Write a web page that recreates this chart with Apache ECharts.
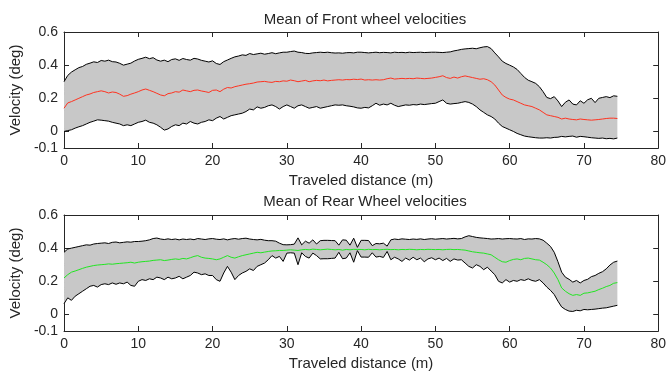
<!DOCTYPE html>
<html>
<head>
<meta charset="utf-8">
<script src="https://cdn.jsdelivr.net/npm/echarts@6/dist/echarts.min.js"></script>
<style>
  html, body { margin: 0; padding: 0; background: #ffffff; }
  #chart { width: 669px; height: 376px; }
</style>
</head>
<body>
<div id="chart"></div>
<script>
// Sampling positions along the track (m), every 0.5 m from 0 to 74.5
const distance = [];
for (let i = 0; i < 150; i++) distance.push(i * 0.5);

// Front wheel: upper bound, mean and lower bound of velocity (deg)
const frontUpper = [
  0.300, 0.338, 0.358, 0.372, 0.385, 0.392, 0.405, 0.412, 0.420, 0.416,
  0.428, 0.424, 0.430, 0.421, 0.419, 0.411, 0.400, 0.406, 0.412, 0.425,
  0.435, 0.441, 0.448, 0.439, 0.445, 0.431, 0.424, 0.430, 0.421, 0.434,
  0.438, 0.429, 0.440, 0.434, 0.430, 0.441, 0.437, 0.429, 0.424, 0.419,
  0.426, 0.410, 0.404, 0.421, 0.431, 0.441, 0.450, 0.455, 0.462, 0.459,
  0.470, 0.464, 0.468, 0.472, 0.466, 0.470, 0.475, 0.469, 0.474, 0.478,
  0.478, 0.482, 0.485, 0.478, 0.476, 0.471, 0.470, 0.474, 0.476, 0.478,
  0.476, 0.478, 0.475, 0.473, 0.474, 0.472, 0.475, 0.476, 0.474, 0.478,
  0.478, 0.476, 0.474, 0.476, 0.478, 0.475, 0.477, 0.476, 0.474, 0.478,
  0.476, 0.477, 0.475, 0.478, 0.476, 0.477, 0.478, 0.476, 0.477, 0.478,
  0.478, 0.477, 0.476, 0.478, 0.480, 0.486, 0.490, 0.495, 0.498, 0.500,
  0.502, 0.499, 0.505, 0.510, 0.512, 0.500, 0.474, 0.450, 0.424, 0.410,
  0.400, 0.389, 0.374, 0.350, 0.326, 0.309, 0.300, 0.290, 0.270, 0.240,
  0.205, 0.198, 0.210, 0.184, 0.150, 0.176, 0.190, 0.165, 0.160, 0.185,
  0.170, 0.191, 0.200, 0.174, 0.200, 0.205, 0.210, 0.204, 0.215, 0.212
];
const frontMean = [
  0.140, 0.172, 0.180, 0.190, 0.200, 0.210, 0.220, 0.226, 0.235, 0.240,
  0.245, 0.240, 0.232, 0.238, 0.235, 0.225, 0.212, 0.216, 0.225, 0.232,
  0.240, 0.250, 0.256, 0.248, 0.240, 0.230, 0.220, 0.215, 0.228, 0.232,
  0.240, 0.237, 0.250, 0.245, 0.240, 0.248, 0.250, 0.244, 0.240, 0.235,
  0.248, 0.250, 0.240, 0.255, 0.265, 0.262, 0.270, 0.275, 0.280, 0.285,
  0.288, 0.292, 0.298, 0.300, 0.302, 0.298, 0.296, 0.302, 0.300, 0.305,
  0.303, 0.310, 0.306, 0.300, 0.304, 0.308, 0.300, 0.305, 0.308, 0.306,
  0.310, 0.305, 0.308, 0.310, 0.312, 0.310, 0.313, 0.312, 0.315, 0.313,
  0.316, 0.310, 0.312, 0.310, 0.312, 0.310, 0.312, 0.318, 0.322, 0.316,
  0.318, 0.320, 0.318, 0.320, 0.318, 0.322, 0.320, 0.318, 0.320, 0.322,
  0.326, 0.330, 0.336, 0.325, 0.320, 0.328, 0.322, 0.330, 0.335, 0.330,
  0.325, 0.320, 0.315, 0.318, 0.312, 0.300, 0.280, 0.250, 0.220, 0.205,
  0.195, 0.190, 0.180, 0.170, 0.160, 0.155, 0.150, 0.140, 0.130, 0.115,
  0.100, 0.095, 0.090, 0.085, 0.075, 0.080, 0.075, 0.072, 0.070, 0.075,
  0.072, 0.070, 0.068, 0.070, 0.072, 0.075, 0.078, 0.080, 0.080, 0.078
];
const frontLower = [
  0.000, 0.005, 0.010, 0.020, 0.028, 0.035, 0.045, 0.055, 0.062, 0.070,
  0.068, 0.065, 0.062, 0.055, 0.050, 0.045, 0.035, 0.040, 0.035, 0.045,
  0.055, 0.060, 0.068, 0.055, 0.050, 0.040, 0.025, 0.008, 0.015, 0.030,
  0.040, 0.035, 0.050, 0.045, 0.060, 0.050, 0.045, 0.055, 0.060, 0.070,
  0.065, 0.080, 0.090, 0.075, 0.085, 0.095, 0.100, 0.105, 0.110, 0.120,
  0.135, 0.130, 0.148, 0.140, 0.145, 0.155, 0.160, 0.150, 0.135, 0.150,
  0.160, 0.150, 0.140, 0.155, 0.160, 0.150, 0.140, 0.145, 0.150, 0.140,
  0.145, 0.150, 0.155, 0.160, 0.158, 0.160, 0.155, 0.152, 0.148, 0.142,
  0.140, 0.145, 0.142, 0.155, 0.170, 0.158, 0.165, 0.160, 0.170, 0.158,
  0.150, 0.155, 0.160, 0.158, 0.162, 0.160, 0.165, 0.162, 0.165, 0.168,
  0.170, 0.180, 0.190, 0.170, 0.165, 0.168, 0.170, 0.175, 0.180, 0.175,
  0.165, 0.150, 0.130, 0.115, 0.100, 0.090, 0.075, 0.050, 0.030, 0.020,
  0.010, 0.000, -0.012, -0.020, -0.028, -0.032, -0.035, -0.038, -0.040, -0.040,
  -0.038, -0.040, -0.036, -0.035, -0.030, -0.033, -0.030, -0.028, -0.035, -0.030,
  -0.032, -0.035, -0.038, -0.040, -0.042, -0.040, -0.044, -0.042, -0.045, -0.040
];

// Rear wheel: upper bound, mean and lower bound of velocity (deg)
const rearUpper = [
  0.375, 0.395, 0.400, 0.405, 0.410, 0.415, 0.420, 0.418, 0.425, 0.428,
  0.430, 0.432, 0.428, 0.435, 0.437, 0.432, 0.435, 0.438, 0.436, 0.440,
  0.440, 0.442, 0.445, 0.450, 0.458, 0.461, 0.455, 0.452, 0.456, 0.452,
  0.455, 0.450, 0.455, 0.452, 0.455, 0.451, 0.458, 0.455, 0.452, 0.456,
  0.458, 0.454, 0.452, 0.456, 0.450, 0.455, 0.458, 0.454, 0.458, 0.460,
  0.455, 0.452, 0.450, 0.453, 0.448, 0.445, 0.445, 0.442, 0.430, 0.421,
  0.420, 0.421, 0.424, 0.462, 0.420, 0.442, 0.430, 0.450, 0.425, 0.445,
  0.447, 0.447, 0.446, 0.445, 0.418, 0.450, 0.448, 0.418, 0.460, 0.405,
  0.447, 0.447, 0.446, 0.415, 0.428, 0.426, 0.430, 0.412, 0.450, 0.455,
  0.452, 0.456, 0.454, 0.452, 0.455, 0.453, 0.456, 0.452, 0.455, 0.457,
  0.454, 0.456, 0.458, 0.455, 0.457, 0.459, 0.456, 0.458, 0.468, 0.475,
  0.470, 0.465, 0.462, 0.460, 0.458, 0.455, 0.456, 0.458, 0.455, 0.457,
  0.458, 0.456, 0.455, 0.458, 0.452, 0.456, 0.455, 0.458, 0.456, 0.448,
  0.430, 0.410, 0.375, 0.318, 0.255, 0.225, 0.212, 0.195, 0.205, 0.190,
  0.205, 0.212, 0.228, 0.235, 0.248, 0.258, 0.275, 0.298, 0.315, 0.322
];
const rearMean = [
  0.220, 0.240, 0.255, 0.262, 0.270, 0.278, 0.285, 0.290, 0.295, 0.298,
  0.300, 0.302, 0.305, 0.303, 0.306, 0.308, 0.310, 0.312, 0.315, 0.310,
  0.315, 0.318, 0.320, 0.322, 0.326, 0.328, 0.330, 0.325, 0.328, 0.332,
  0.335, 0.332, 0.338, 0.335, 0.342, 0.350, 0.355, 0.345, 0.340, 0.338,
  0.335, 0.330, 0.335, 0.345, 0.355, 0.345, 0.340, 0.348, 0.355, 0.360,
  0.365, 0.370, 0.375, 0.372, 0.376, 0.380, 0.383, 0.384, 0.386, 0.386,
  0.388, 0.390, 0.388, 0.386, 0.390, 0.392, 0.390, 0.394, 0.392, 0.390,
  0.392, 0.394, 0.392, 0.390, 0.392, 0.388, 0.392, 0.390, 0.393, 0.392,
  0.392, 0.390, 0.393, 0.391, 0.392, 0.390, 0.392, 0.393, 0.391, 0.392,
  0.390, 0.392, 0.391, 0.393, 0.392, 0.390, 0.392, 0.391, 0.393, 0.392,
  0.391, 0.392, 0.390, 0.392, 0.393, 0.391, 0.392, 0.390, 0.388, 0.383,
  0.378, 0.375, 0.372, 0.370, 0.365, 0.360, 0.345, 0.330, 0.318, 0.315,
  0.325, 0.332, 0.335, 0.330, 0.338, 0.340, 0.335, 0.330, 0.328, 0.315,
  0.300, 0.280, 0.250, 0.210, 0.160, 0.140, 0.125, 0.115, 0.120, 0.115,
  0.128, 0.130, 0.135, 0.140, 0.150, 0.158, 0.168, 0.175, 0.188, 0.192
];
const rearLower = [
  0.065, 0.100, 0.085, 0.110, 0.125, 0.140, 0.155, 0.170, 0.175, 0.165,
  0.180, 0.185, 0.180, 0.190, 0.182, 0.190, 0.185, 0.195, 0.175, 0.170,
  0.200, 0.210, 0.205, 0.215, 0.210, 0.225, 0.220, 0.210, 0.225, 0.215,
  0.220, 0.230, 0.215, 0.225, 0.235, 0.255, 0.250, 0.240, 0.245, 0.235,
  0.235, 0.210, 0.200, 0.250, 0.290, 0.255, 0.210, 0.235, 0.250, 0.260,
  0.275, 0.265, 0.290, 0.300, 0.310, 0.330, 0.355, 0.340, 0.350, 0.320,
  0.370, 0.372, 0.370, 0.300, 0.372, 0.350, 0.340, 0.370, 0.355, 0.335,
  0.336, 0.336, 0.338, 0.340, 0.375, 0.336, 0.340, 0.372, 0.315, 0.385,
  0.346, 0.346, 0.345, 0.372, 0.346, 0.350, 0.344, 0.380, 0.330, 0.345,
  0.335, 0.320, 0.340, 0.328, 0.345, 0.330, 0.340, 0.318, 0.335, 0.342,
  0.330, 0.340, 0.325, 0.338, 0.320, 0.335, 0.328, 0.330, 0.310, 0.290,
  0.280, 0.300, 0.290, 0.270, 0.285, 0.262, 0.240, 0.200, 0.190, 0.210,
  0.195, 0.205, 0.200, 0.210, 0.205, 0.215, 0.205, 0.200, 0.210, 0.190,
  0.165, 0.145, 0.120, 0.080, 0.045, 0.030, 0.020, 0.018, 0.025, 0.022,
  0.030, 0.028, 0.030, 0.032, 0.035, 0.038, 0.040, 0.045, 0.050, 0.055
];

// Axis ticks and labels
const yTickValues = [-0.1, 0, 0.2, 0.4, 0.6];
const titles = ['Mean of Front wheel velocities', 'Mean of Rear Wheel velocities'];
const xName = 'Traveled distance (m)';
const yName = 'Velocity (deg)';

const FONT = "'Liberation Sans', Arial, sans-serif";
const TEXT = '#262626';
const AXIS = '#262626';
const BAND = '#c8c8c8';

const panels = [
  { upper: frontUpper, mean: frontMean, lower: frontLower, color: '#ff3320' },
  { upper: rearUpper, mean: rearMean, lower: rearLower, color: '#22e622' }
];

const grids = [
  { left: 61, right: 9, top: 32, height: 116 },
  { left: 61, right: 9, top: 215, height: 116 }
];

function pairs(values) {
  return values.map((v, i) => [distance[i], v]);
}

const xAxes = [], yAxes = [], series = [], titleOpts = [];

panels.forEach((p, g) => {
  const tickStyle = { inside: true, length: 5, lineStyle: { color: AXIS, width: 1 } };
  xAxes.push({
    gridIndex: g, type: 'value', position: 'bottom', min: 0, max: 80, interval: 10,
    axisLine: { show: true, onZero: false, lineStyle: { color: AXIS, width: 1 } },
    axisTick: tickStyle,
    axisLabel: { color: TEXT, fontSize: 14, fontFamily: FONT, margin: 6 },
    splitLine: { show: false },
    name: xName, nameLocation: 'middle', nameGap: 25,
    nameTextStyle: { color: TEXT, fontSize: 15, fontFamily: FONT }
  });
  xAxes.push({
    gridIndex: g, type: 'value', position: 'top', min: 0, max: 80, interval: 10,
    axisLine: { show: true, onZero: false, lineStyle: { color: AXIS, width: 1 } },
    axisTick: tickStyle,
    axisLabel: { show: false },
    splitLine: { show: false }
  });
  yAxes.push({
    gridIndex: g, type: 'value', position: 'left', min: -0.1, max: 0.6,
    axisLine: { show: true, onZero: false, lineStyle: { color: AXIS, width: 1 } },
    axisTick: Object.assign({ customValues: yTickValues }, tickStyle),
    axisLabel: { customValues: yTickValues, color: TEXT, fontSize: 14, fontFamily: FONT, margin: 6 },
    splitLine: { show: false },
    name: yName, nameLocation: 'middle', nameGap: 37,
    nameTextStyle: { color: TEXT, fontSize: 15, fontFamily: FONT }
  });
  yAxes.push({
    gridIndex: g, type: 'value', position: 'right', min: -0.1, max: 0.6,
    axisLine: { show: true, onZero: false, lineStyle: { color: AXIS, width: 1 } },
    axisTick: Object.assign({ customValues: yTickValues }, tickStyle),
    axisLabel: { show: false },
    splitLine: { show: false }
  });

  // Shaded band between the lower and upper bound
  series.push({
    type: 'custom', xAxisIndex: 2 * g, yAxisIndex: 2 * g, silent: true, z: 1,
    data: [[0, 0]],
    renderItem: function (params, api) {
      const pts = [];
      for (let i = 0; i < distance.length; i++) pts.push(api.coord([distance[i], p.upper[i]]));
      for (let i = distance.length - 1; i >= 0; i--) pts.push(api.coord([distance[i], p.lower[i]]));
      return { type: 'polygon', shape: { points: pts }, style: { fill: BAND, stroke: null } };
    }
  });
  [p.upper, p.lower].forEach(vals => {
    series.push({
      type: 'line', xAxisIndex: 2 * g, yAxisIndex: 2 * g, data: pairs(vals),
      symbol: 'none', silent: true, z: 2,
      lineStyle: { color: '#000000', width: 1 }
    });
  });
  series.push({
    type: 'line', xAxisIndex: 2 * g, yAxisIndex: 2 * g, data: pairs(p.mean),
    symbol: 'none', silent: true, z: 3,
    lineStyle: { color: p.color, width: 1 }
  });

  titleOpts.push({
    text: titles[g], left: 360, top: g === 0 ? 7 : 189, textAlign: 'center',
    textStyle: { color: TEXT, fontSize: 15, fontWeight: 'normal', fontFamily: FONT }
  });
});

const chart = echarts.init(document.getElementById('chart'), null, { renderer: 'canvas' });
chart.setOption({
  animation: false,
  backgroundColor: '#ffffff',
  title: titleOpts,
  grid: grids,
  xAxis: xAxes,
  yAxis: yAxes,
  series: series
});
</script>
</body>
</html>
